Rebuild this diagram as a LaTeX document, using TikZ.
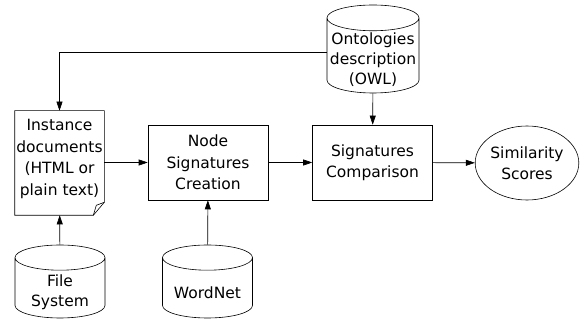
\documentclass[tikz,border=0pt]{standalone}
\usepackage{fontspec}
\setmainfont{DejaVu Sans}
\usepackage{tikz}
\usetikzlibrary{arrows.meta}
\usetikzlibrary{shapes.geometric,positioning}

\tikzset{
  block/.style={draw, rectangle, align=center, minimum width=120pt, minimum height=75pt},
  store/.style={draw, cylinder, shape border rotate=90, aspect=0.28, inner xsep=45pt, inner ysep=0pt, minimum width=90pt, minimum height=73pt, anchor=shape center},
  storetext/.style={align=center, yshift=-11pt, font=\fontsize{15.5}{20}\selectfont},
  page/.style={rectangle, minimum width=89pt, minimum height=104pt},
  flow/.style={-{Triangle[length=9pt,width=6pt]}}
}

\begin{document}
\begin{tikzpicture} [x=1pt, y=-1pt, line width=0.6pt, font=\fontsize{15.5}{21.5}\selectfont]
\useasboundingbox (0,0) rectangle (582,320);

% document page with folded corner
\node [page] (doc) at (59.5,163) {};
\draw (doc.north west) -- (doc.north east) -- ([yshift=13pt]doc.south east) -- ([xshift=-11pt]doc.south east) -- (doc.south west) -- cycle;
\draw ([xshift=-11pt]doc.south east) -- ([xshift=-8pt, yshift=10pt]doc.south east) -- ([yshift=13pt]doc.south east);
\node [align=center] (doctext) at ([yshift=4pt]doc.center) {Instance\\documents\\(HTML or\\plain text)};

% data stores
\node [store] (fs) at (60,281.5) {};
\node [storetext] (fstext) at (fs.shape center) {File\\System};
\node [store] (wn) at (207.5,281.5) {};
\node [storetext] (wntext) at (wn.shape center) {WordNet};
\node [store, inner xsep=46pt, minimum width=92pt, minimum height=88pt] (onto) at (373,49) {};
\node [storetext] (ontotext) at (onto.shape center) {Ontologies\\description\\(OWL)};
\coordinate (ontoleft) at ([yshift=-3pt]onto.shape center);

\node [block] (nsc) at (208,162.5) {Node\\Signatures\\Creation};
\node [block] (comp) at (372.5,162.5) {Signatures\\Comparison};
\node [draw, ellipse, align=center, inner sep=0pt, minimum width=103pt, minimum height=74pt] (sim) at (527,163) {Similarity\\Scores};

\draw [flow] (fs) -- (doc);
\draw [flow] (wn) -- (nsc);
\draw [flow] (onto) -- (comp);
\draw [flow] (ontoleft -| onto.west) -| (doc.north);
\draw [flow] (doc.east |- nsc) -- (nsc);
\draw [flow] (nsc) -- (comp);
\draw [flow] (comp) -- (sim);

\end{tikzpicture}
\end{document}
